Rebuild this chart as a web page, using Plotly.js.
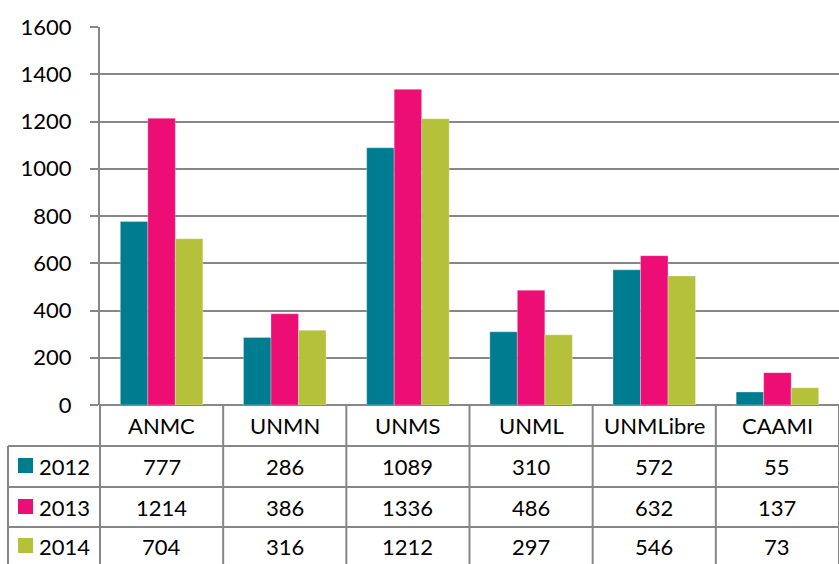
<!DOCTYPE html>
<html>
<head>
<meta charset="utf-8">
<script src="https://cdn.plot.ly/plotly-3.0.1.min.js"></script>
<style>html,body{margin:0;padding:0;background:#fff;}#chart{width:839px;height:564px;}</style>
</head>
<body>
<div id="chart"></div>
<script>
const categories = ["ANMC", "UNMN", "UNMS", "UNML", "UNMLibre", "CAAMI"];
const seriesNames = ["2012", "2013", "2014"];
const values2012 = [777, 286, 1089, 310, 572, 55];
const values2013 = [1214, 386, 1336, 486, 632, 137];
const values2014 = [704, 316, 1212, 297, 546, 73];
const colors = ["#007C91", "#EC0E74", "#B5C13A"];
const yTicks = [0, 200, 400, 600, 800, 1000, 1200, 1400, 1600];

const allValues = [values2012, values2013, values2014];
const W = 839, H = 564, L = 100, T = 27, B = 405;
const pw = W - L, ph = B - T;
const px = x => (x - L) / pw;
const py = y => (B - y) / ph;
const gridColor = "#878787";
const fontFam = "Lato, 'Open Sans', sans-serif";

const traces = seriesNames.map((n, i) => ({
  type: "bar", name: n, x: categories, y: allValues[i],
  marker: {color: colors[i], line: {color: "rgba(255,255,255,0.6)", width: 0.5}},
  hoverinfo: "x+y+name"
}));

const rowLines = [446, 487, 527];
const rowCenters = [466, 507, 546];
const shapes = [];
const annotations = [];
const lineStyle = {color: gridColor, width: 2};
// horizontal row lines
rowLines.forEach(y => shapes.push({type: "line", xref: "paper", yref: "paper", x0: px(8), x1: 1, y0: py(y), y1: py(y), line: lineStyle}));
// left border of legend column
shapes.push({type: "line", xref: "paper", yref: "paper", x0: px(8), x1: px(8), y0: py(446), y1: py(564), line: lineStyle});
// vertical column lines
for (let i = 0; i <= categories.length; i++) {
  const xp = i / categories.length;
  shapes.push({type: "line", xref: "paper", yref: "paper", x0: xp, x1: xp, y0: py(405), y1: py(564), line: lineStyle});
}
// category header labels
categories.forEach((c, i) => annotations.push({xref: "x", yref: "paper", x: c, y: py(425), text: c, showarrow: false, font: {family: fontFam, size: 22, color: "#000"}, xanchor: "center", yanchor: "middle"}));
// data rows
seriesNames.forEach((n, r) => {
  shapes.push({type: "rect", xref: "paper", yref: "paper", x0: px(18), x1: px(33), y0: py(rowCenters[r] - 8), y1: py(rowCenters[r] + 7), fillcolor: colors[r], line: {width: 0}});
  annotations.push({xref: "paper", yref: "paper", x: px(37), y: py(rowCenters[r]), text: n, showarrow: false, font: {family: fontFam, size: 22, color: "#000"}, xanchor: "left", yanchor: "middle"});
  allValues[r].forEach((v, i) => annotations.push({xref: "x", yref: "paper", x: categories[i], y: py(rowCenters[r]), text: String(v), showarrow: false, font: {family: fontFam, size: 22, color: "#000"}, xanchor: "center", yanchor: "middle"}));
});

const layout = {
  width: W, height: H,
  margin: {l: L, r: 0, t: T, b: H - B, pad: 0},
  paper_bgcolor: "#fff", plot_bgcolor: "#fff",
  showlegend: false,
  barmode: "group", bargap: 0.33, bargroupgap: 0,
  xaxis: {type: "category", range: [-0.5, 5.5], showticklabels: false, ticks: "", showgrid: false, zeroline: false, showline: false, fixedrange: true},
  yaxis: {range: [0, 1600], tickvals: yTicks, ticktext: yTicks.map(String), showgrid: true, gridcolor: gridColor, gridwidth: 2, zeroline: true, zerolinecolor: gridColor, zerolinewidth: 2, showline: true, linecolor: gridColor, linewidth: 2, ticks: "outside", ticklen: 8, tickwidth: 2, tickcolor: gridColor, ticklabelstandoff: 14, tickfont: {family: fontFam, size: 22, color: "#000"}, fixedrange: true},
  shapes: shapes,
  annotations: annotations
};
Plotly.newPlot("chart", traces, layout, {displayModeBar: false, staticPlot: true});
</script>
</body>
</html>
